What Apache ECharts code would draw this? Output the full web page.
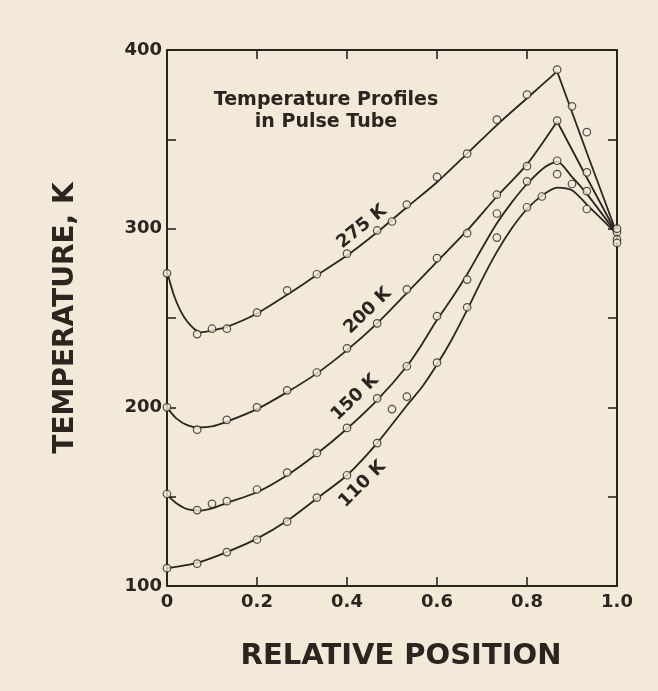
<!DOCTYPE html>
<html>
<head>
<meta charset="utf-8">
<title>Temperature Profiles in Pulse Tube</title>
<script src="https://cdn.jsdelivr.net/npm/echarts@6/dist/echarts.min.js"></script>
<style>
  html, body { margin: 0; padding: 0; background: #f2e9d8; }
  #chart { width: 658px; height: 691px; }
</style>
</head>
<body>
<div id="chart"></div>
<script>
// fitted curves, [relative position, temperature K]
const line275 = [[0, 276], [0.015, 263], [0.03, 254], [0.045, 248], [0.06, 244], [0.075, 242], [0.1, 243],
  [0.133, 245], [0.2, 252.5], [0.267, 263], [0.333, 274], [0.4, 285], [0.467, 298], [0.533, 312],
  [0.6, 326], [0.667, 342], [0.733, 358], [0.8, 373], [0.867, 388], [0.933, 342.5], [1.0, 297]]
const line200 = [[0, 200], [0.02, 194], [0.045, 190], [0.07, 188.7], [0.1, 189.3], [0.133, 192], [0.2, 199],
  [0.267, 208.5], [0.333, 219], [0.4, 232], [0.467, 247], [0.533, 264], [0.6, 281.5], [0.667, 299],
  [0.733, 318], [0.8, 336], [0.867, 360], [0.933, 328.5], [1.0, 297]]
const line150 = [[0, 151], [0.02, 146.5], [0.045, 143], [0.07, 142.2], [0.1, 143.5], [0.133, 146.5], [0.2, 152.5],
  [0.267, 162], [0.333, 174], [0.4, 188], [0.467, 204], [0.533, 223], [0.567, 235.5], [0.6, 249],
  [0.633, 261], [0.667, 274.5], [0.7, 289], [0.733, 303], [0.767, 315], [0.8, 325], [0.84, 334.5],
  [0.867, 337.5], [0.9, 329], [0.933, 319.5], [1.0, 297]]
const line110 = [[0, 110], [0.067, 113], [0.133, 119], [0.2, 126.5], [0.267, 136.5], [0.333, 149], [0.4, 162],
  [0.467, 180], [0.533, 201], [0.567, 211.5], [0.6, 224], [0.633, 238], [0.667, 254.5], [0.7, 271.5],
  [0.733, 287], [0.767, 300.5], [0.8, 311], [0.833, 318.5], [0.867, 323], [0.9, 321.5], [0.933, 313.5],
  [1.0, 297]]

// measured points (open circles)
const pts275 = [[0, 275], [0.067, 241], [0.1, 244], [0.133, 244], [0.2, 253], [0.267, 265.5], [0.333, 274.5],
  [0.4, 286], [0.467, 299], [0.5, 304], [0.533, 313.5], [0.6, 329], [0.667, 342], [0.733, 361],
  [0.8, 375], [0.867, 389], [0.9, 368.5], [0.933, 354], [1.0, 298]]
const pts200 = [[0, 200], [0.067, 187.5], [0.133, 193], [0.2, 200], [0.267, 209.5], [0.333, 219.5], [0.4, 233],
  [0.467, 247], [0.533, 266], [0.6, 283.5], [0.667, 297.5], [0.733, 319], [0.8, 335], [0.867, 360.5],
  [0.933, 331.5], [1.0, 300]]
const pts150 = [[0, 151.5], [0.067, 142.5], [0.1, 146], [0.133, 147.5], [0.2, 154], [0.267, 163.5], [0.333, 174.5],
  [0.4, 188.5], [0.467, 205], [0.533, 223], [0.6, 251], [0.667, 271.5], [0.733, 308.5], [0.8, 326.5],
  [0.867, 338], [0.9, 325], [0.933, 321], [1.0, 294]]
const pts110 = [[0, 110], [0.067, 112.5], [0.133, 119], [0.2, 126], [0.267, 136], [0.333, 149.5], [0.4, 162],
  [0.467, 180], [0.5, 199], [0.533, 206], [0.6, 225], [0.667, 256], [0.733, 295], [0.8, 312],
  [0.833, 318], [0.867, 330.5], [0.933, 311], [1.0, 292]]

// curve labels, written along each curve
const curveNames = ['275 K', '200 K', '150 K', '110 K']
const curveNameAt = [[0.433, 301], [0.446, 254], [0.418, 205.5], [0.434, 157]]
const curveNameAngle = [39, 44, 44, 45]

const xTicks = [0, 0.2, 0.4, 0.6, 0.8, 1.0]
const yTicks = [100, 200, 300, 400]

const INK = '#2a251f'
const PAPER = '#f2e9d8'
const FONT = '"DejaVu Sans", sans-serif'

let chart = echarts.init(document.getElementById('chart'), null, {renderer: 'canvas'})

function lineSeries (data, smooth) {
  return {
    type: 'line',
    data: data,
    smooth: smooth,
    showSymbol: false,
    silent: true,
    z: 2,
    lineStyle: {color: INK, width: 1.8}
  }
}

/**
 * smooth curve; with a sharp peak the rise is smoothed and the fall is drawn straight
 */
function curve (data, sharpPeak) {
  if (!sharpPeak) {
    return [lineSeries(data, 0.25)]
  }
  let peak = 0
  data.forEach((p, i) => { if (p[1] > data[peak][1]) peak = i })
  return [lineSeries(data.slice(0, peak + 1), 0.25), lineSeries(data.slice(peak), false)]
}

function points (data) {
  return {
    type: 'scatter',
    data: data,
    symbol: 'circle',
    symbolSize: 7.5,
    silent: true,
    z: 3,
    itemStyle: {color: PAPER, borderColor: INK, borderWidth: 1.2}
  }
}

let axisLine = {show: true, onZero: false, lineStyle: {color: INK, width: 2}}
let axisTick = {show: true, inside: true, length: 9, lineStyle: {color: INK, width: 1.6}}

let option = {
  backgroundColor: PAPER,
  animation: false,
  grid: {left: 167, right: 41, top: 50, bottom: 105},
  graphic: [{
    type: 'text',
    x: 326,
    y: 89,
    style: {
      text: 'Temperature Profiles\nin Pulse Tube',
      align: 'center',
      verticalAlign: 'top',
      lineHeight: 22,
      font: 'bold 19px "DejaVu Sans", sans-serif',
      fill: INK
    }
  }],
  xAxis: [{
    type: 'value',
    position: 'bottom',
    min: 0,
    max: 1,
    interval: 0.2,
    axisLine: axisLine,
    axisTick: axisTick,
    splitLine: {show: false},
    axisLabel: {
      margin: 7,
      color: INK,
      fontFamily: FONT,
      fontWeight: 'bold',
      fontSize: 18,
      formatter: v => xTicks.indexOf(Math.round(v * 10) / 10) < 0 ? '' : (v === 0 ? '0' : v.toFixed(1))
    },
    name: 'RELATIVE POSITION',
    nameLocation: 'middle',
    nameGap: 56,
    nameTextStyle: {color: INK, fontFamily: FONT, fontWeight: 'bold', fontSize: 29, padding: [0, 0, 0, 18]}
  }, {
    type: 'value',
    position: 'top',
    min: 0,
    max: 1,
    interval: 0.2,
    axisLine: axisLine,
    axisTick: axisTick,
    axisLabel: {show: false},
    splitLine: {show: false}
  }],
  yAxis: [{
    type: 'value',
    position: 'left',
    min: 100,
    max: 400,
    interval: 50,
    axisLine: axisLine,
    axisTick: axisTick,
    splitLine: {show: false},
    axisLabel: {
      margin: 5,
      color: INK,
      fontFamily: FONT,
      fontWeight: 'bold',
      fontSize: 18,
      formatter: v => yTicks.indexOf(v) < 0 ? '' : String(v)
    },
    name: 'TEMPERATURE, K',
    nameLocation: 'middle',
    nameGap: 87,
    nameTextStyle: {color: INK, fontFamily: FONT, fontWeight: 'bold', fontSize: 28}
  }, {
    type: 'value',
    position: 'right',
    min: 100,
    max: 400,
    interval: 50,
    axisLine: axisLine,
    axisTick: axisTick,
    axisLabel: {show: false},
    splitLine: {show: false}
  }],
  series: [].concat(
    curve(line275, true), curve(line200, true), curve(line150, false), curve(line110, false),
    [points(pts275), points(pts200), points(pts150), points(pts110)],
    [{
      // curve names
      type: 'scatter',
      silent: true,
      z: 4,
      symbolSize: 1,
      itemStyle: {color: PAPER, opacity: 1},
      data: curveNames.map((name, i) => ({
        value: curveNameAt[i],
        name: name,
        label: {rotate: curveNameAngle[i]}
      })),
      label: {
        show: true,
        position: 'inside',
        formatter: p => p.name,
        color: INK,
        opacity: 1,
        textBorderWidth: 0,
        textBorderColor: 'transparent',
        fontFamily: FONT,
        fontWeight: 'bold',
        fontSize: 18
      }
    }]
  )
}

chart.setOption(option)
</script>
</body>
</html>
